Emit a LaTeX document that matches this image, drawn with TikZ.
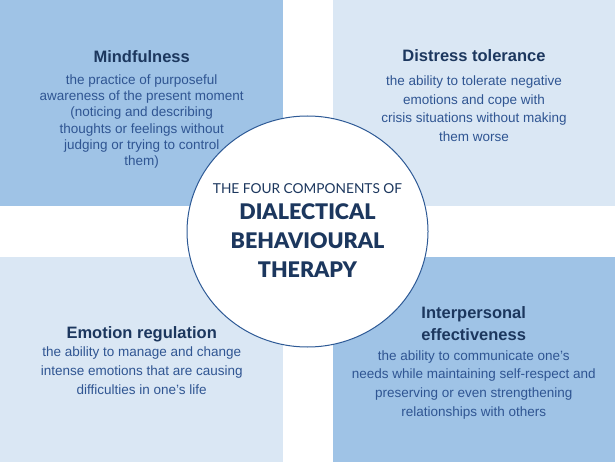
\documentclass[tikz,border=0pt]{standalone}
\usepackage{fontspec}
\setmainfont{Liberation Sans}
\newfontfamily\ringfont{Lato}
\newfontfamily\ringheavy{Lato Black}
\usetikzlibrary{positioning,shapes.geometric}
\definecolor{deepfill}{HTML}{9FC3E6}
\definecolor{palefill}{HTML}{DAE7F4}
\definecolor{headblue}{HTML}{1C375E}
\definecolor{textblue}{HTML}{2F5592}
\definecolor{ringblue}{HTML}{2E5A96}

\begin{document}
\begin{tikzpicture}[x=1pt,y=-1pt,
  panel/.style={rectangle,inner sep=0,outer sep=0,anchor=north west},
  heading/.style={anchor=base,inner sep=0,text=headblue,font=\fontsize{16.5}{19}\selectfont\bfseries},
  body/.style={anchor=base,inner sep=0,text=textblue,font=\fontsize{13.5}{16}\selectfont},
  ringsmall/.style={anchor=base,inner sep=0,text=headblue,font=\ringfont\fontsize{13.7}{16}\selectfont},
  ringbig/.style={anchor=base,inner sep=0,text=headblue,font=\ringheavy\fontsize{21.5}{26}\selectfont}]
\useasboundingbox (0,0) rectangle (615,462);
% the four quadrants
\node[panel,fill=deepfill,minimum width=283pt,minimum height=206pt] (mindbox) at (0,0) {};
\node[panel,fill=palefill,minimum width=282pt,minimum height=206pt] (distbox) at (333,0) {};
\node[panel,fill=palefill,minimum width=283pt,minimum height=205pt] (emobox) at (0,257) {};
\node[panel,fill=deepfill,minimum width=282pt,minimum height=205pt] (interbox) at (333,257) {};

% Mindfulness
\node[heading] (mindhead) at (141.7,62.7) {Mindfulness};
\foreach \line [count=\k] in {the practice of purposeful,awareness of the present moment,{(noticing and describing},thoughts or feelings without,judging or trying to control,them)} {
    \node[body] (mind\k) at (141.7,{84.5+16.25*(\k-1)}) {\line};
}

% Distress tolerance
\node[heading] (disthead) at (474,61.7) {Distress tolerance};
\foreach \line [count=\k] in {the ability to tolerate negative,emotions and cope with,crisis situations without making,them worse} {
    \node[body] (dist\k) at (474,{85.8+18.45*(\k-1)}) {\line};
}

% Emotion regulation
\node[heading] (emohead) at (141.7,338.3) {Emotion regulation};
\foreach \line [count=\k] in {the ability to manage and change,intense emotions that are causing,difficulties in one’s life} {
    \node[body] (emo\k) at (141.7,{356.8+19*(\k-1)}) {\line};
}

% Interpersonal effectiveness
\node[heading] (interhead) at (473.7,318.3) {Interpersonal};
\node[heading] (interhead2) at (473.7,340.3) {effectiveness};
\foreach \line [count=\k] in {the ability to communicate one’s,needs while maintaining self-respect and,preserving or even strengthening,relationships with others} {
    \node[body] (inter\k) at (473.7,{360.2+18.7*(\k-1)}) {\line};
}

% centre
\node[ellipse,draw=ringblue,line width=1pt,fill=white,inner sep=0,minimum width=241pt,minimum height=231pt] (core) at (307.5,231.5) {};
\node[ringsmall] (coretop) at (307.5,194) {THE FOUR COMPONENTS OF};
\foreach \word/\yy [count=\k] in {DIALECTICAL/220,BEHAVIOURAL/248.3,THERAPY/277.3} {
    \node[ringbig] (core\k) at (307.5,\yy) {\word};
}
\end{tikzpicture}
\end{document}
